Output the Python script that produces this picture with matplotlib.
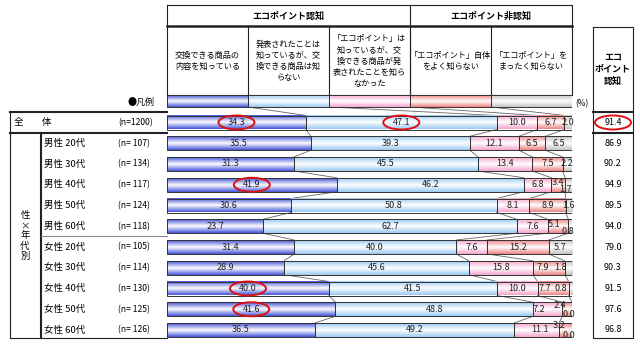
import numpy as np
import matplotlib.pyplot as plt
from matplotlib.colors import LinearSegmentedColormap
from matplotlib.patches import Ellipse

plt.rcParams['font.family'] = ['Noto Sans CJK JP', 'DejaVu Sans']

# ---- data ----
groups = ["全体", "男性 20代", "男性 30代", "男性 40代", "男性 50代", "男性 60代",
          "女性 20代", "女性 30代", "女性 40代", "女性 50代", "女性 60代"]
n_values = [1200, 107, 134, 117, 124, 118, 105, 114, 130, 125, 126]
know_items = [34.3, 35.5, 31.3, 41.9, 30.6, 23.7, 31.4, 28.9, 40.0, 41.6, 36.5]
know_announce = [47.1, 39.3, 45.5, 46.2, 50.8, 62.7, 40.0, 45.6, 41.5, 48.8, 49.2]
know_name_only = [10.0, 12.1, 13.4, 6.8, 8.1, 7.6, 7.6, 15.8, 10.0, 7.2, 11.1]
not_well = [6.7, 6.5, 7.5, 3.4, 8.9, 5.1, 15.2, 7.9, 7.7, 2.4, 3.2]
not_at_all = [2.0, 6.5, 2.2, 1.7, 1.6, 0.8, 5.7, 1.8, 0.8, 0.0, 0.0]
aware_total = [91.4, 86.9, 90.2, 94.9, 89.5, 94.0, 79.0, 90.3, 91.5, 97.6, 96.8]

columns = ["交換できる商品の\n内容を知っている",
           "発表されたことは\n知っているが、交\n換できる商品は知\nらない",
           "「エコポイント」は\n知っているが、交\n換できる商品が発\n表されたことを知ら\nなかった",
           "「エコポイント」自体\nをよく知らない",
           "「エコポイント」を\nまったく知らない"]
circled = [(0, 0), (0, 1), (3, 0), (8, 0), (9, 0)]

series = [know_items, know_announce, know_name_only, not_well, not_at_all]
edge_cols = ['#4656d8', '#9ccaf2', '#f5a6ca', '#ee8484', '#c4c4c4']

# ---- layout (pixels) ----
W, H = 640, 349
X0, X1 = 167, 572
PX = (X1 - X0) / 100.0
Y_ROW0, DY = 122.5, 20.75
BAR_H = 14 / DY
LEG_ROW = (101 - Y_ROW0) / DY
LEG_H = 12 / DY


def ypix(i):
    return Y_ROW0 + DY * i


fig = plt.figure(figsize=(6.4, 3.49), dpi=100)
bg = fig.add_axes([0, 0, 1, 1])
bg.set_xlim(0, W)
bg.set_ylim(H, 0)
bg.axis('off')

top_px, bot_px = 88, 345
ax = fig.add_axes([X0 / W, 1 - bot_px / H, (X1 - X0) / W, (bot_px - top_px) / H])
ax.set_xlim(0, 100)
ylo, yhi = (bot_px - Y_ROW0) / DY, (top_px - Y_ROW0) / DY
ax.set_ylim(ylo, yhi)
ax.set_autoscale_on(False)
ax.axis('off')

cmaps = [LinearSegmentedColormap.from_list('c%d' % k, [c, 'white', c])
         for k, c in enumerate(edge_cols)]
grad = np.linspace(0, 1, 40).reshape(-1, 1)


def seg(left, width, y, h, k, lw=0.7):
    if width <= 0:
        return
    ax.imshow(grad, cmap=cmaps[k], extent=(left, left + width, y + h / 2, y - h / 2),
              aspect='auto', interpolation='bicubic', zorder=1)
    ax.barh(y, width, left=left, height=h, color='none', edgecolor='#333333',
            linewidth=lw, zorder=2)


# legend bar
for k in range(5):
    seg(20 * k, 20, LEG_ROW, LEG_H, k)

# label offsets in pixels (dx, dy) for tight segments
offsets = {(3, 3): (0, -2), (3, 4): (-3, 5), (5, 3): (-4, -2), (5, 4): (-2, 5),
           (7, 3): (-6, 0), (7, 4): (-8, 0), (8, 3): (-8, 0), (8, 4): (-10, 0),
           (9, 2): (-9, 0), (9, 3): (-7, -4), (9, 4): (-3, 5),
           (10, 2): (3, 0), (10, 3): (-6, -4), (10, 4): (-3, 5)}

cums = []
for i in range(len(groups)):
    vals = [s[i] for s in series]
    cum = np.concatenate([[0], np.cumsum(vals)])
    cums.append(cum)
    for k, v in enumerate(vals):
        seg(cum[k], v, i, BAR_H, k)
        dx, dy = offsets.get((i, k), (0, 0))
        ax.text(cum[k] + v / 2 + dx / PX, i + dy / DY, "%.1f" % v, ha='center',
                va='center', fontsize=6.5, color='#222222', zorder=4, clip_on=False)

# connector lines
prev = np.array([0, 20, 40, 60, 80, 100])
prev_y = LEG_ROW + LEG_H / 2
for i in range(len(groups)):
    for k in range(1, 5):
        ax.plot([prev[k], cums[i][k]], [prev_y, i - BAR_H / 2], color='#666666',
                lw=0.6, zorder=0.5)
    prev = cums[i]
    prev_y = i + BAR_H / 2

# red ellipses
for i, k in circled:
    xc = cums[i][k] + series[k][i] / 2
    ax.add_patch(Ellipse((xc, i), 36 / PX, 14 / DY, fill=False, edgecolor='#e01010',
                         lw=1.4, zorder=5, clip_on=False))

# ---- header table ----
lc = '#222222'
bg.plot([X0, X1, X1, X0, X0], [5, 5, 95, 95, 5], color=lc, lw=0.8)
bg.plot([X0, X1], [26, 26], color=lc, lw=1.8)
bg.plot([410, 410], [5, 95], color=lc, lw=0.8)
for k in range(1, 5):
    xk = X0 + 20 * k * PX
    bg.plot([xk, xk], [26, 95], color=lc, lw=0.8)
for k, t in enumerate(columns):
    xc = X0 + (20 * k + 10) * PX
    bg.text(xc, 61, t, ha='center', va='center', fontsize=5.9, linespacing=1.3)
bg.text((X0 + 410) / 2, 16, "エコポイント認知", ha='center', va='center',
        fontsize=6.5, fontweight='bold')
bg.text((410 + X1) / 2, 16, "エコポイント非認知", ha='center', va='center',
        fontsize=6.5, fontweight='bold')
bg.text(155, 102, "●凡例", ha='right', va='center', fontsize=6.5)
bg.text(582, 104, "(%)", ha='center', va='center', fontsize=6)

# right box
bg.plot([593, 633, 633, 593, 593], [27, 27, 338, 338, 27], color=lc, lw=0.8)
bg.plot([593, 633], [112, 112], color=lc, lw=1.5)
bg.plot([593, 633], [133, 133], color=lc, lw=1.5)
bg.text(613, 69, "エコ\nポイント\n認知", ha='center', va='center', fontsize=6.5,
        fontweight='bold', linespacing=1.4)
for i, v in enumerate(aware_total):
    bg.text(613, ypix(i), "%.1f" % v, ha='center', va='center', fontsize=6.5)
bg.add_patch(Ellipse((613, ypix(0)), 36, 14, fill=False, edgecolor='#e01010', lw=1.4))

# left table
bg.plot([10, X0], [112, 112], color=lc, lw=1.5)
bg.plot([10, X0], [133, 133], color=lc, lw=1.5)
bg.plot([10, 10], [112, 338], color=lc, lw=0.8)
bg.plot([41, 41], [133, 338], color=lc, lw=1.5)
bg.plot([41, X0], [235.5, 235.5], color='#888888', lw=0.8)
bg.plot([10, X0], [338, 338], color=lc, lw=0.8)
bg.text(14, ypix(0), "全", ha='left', va='center', fontsize=6.8)
bg.text(42, ypix(0), "体", ha='left', va='center', fontsize=6.8)
for i, g in enumerate(groups[1:], start=1):
    bg.text(44, ypix(i), g, ha='left', va='center', fontsize=6.8)
for i, n in enumerate(n_values):
    bg.text(118, ypix(i), "(n=%4d)" % n if n >= 1000 else "(n= %d)" % n,
            ha='left', va='center', fontsize=6.2)
bg.text(25, 236, "性\n×\n年\n代\n別", ha='center', va='center', fontsize=6.8,
        linespacing=1.15)

fig.savefig('out.png', dpi=100)
